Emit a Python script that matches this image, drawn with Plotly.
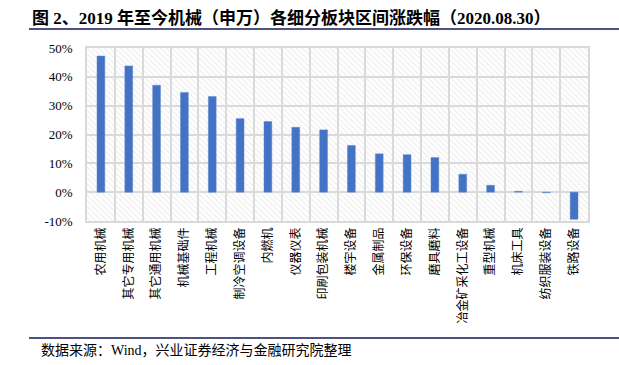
import plotly.graph_objects as go

categories = ["农用机械", "其它专用机械", "其它通用机械", "机械基础件", "工程机械",
              "制冷空调设备", "内燃机", "仪器仪表", "印刷包装机械", "楼宇设备",
              "金属制品", "环保设备", "磨具磨料", "冶金矿采化工设备", "重型机械",
              "机床工具", "纺织服装设备", "铁路设备"]
values = [0.472, 0.438, 0.371, 0.346, 0.332, 0.255, 0.245, 0.225, 0.216, 0.162,
          0.133, 0.130, 0.120, 0.062, 0.024, 0.003, -0.002, -0.094]
y_ticks = [-0.1, 0.0, 0.1, 0.2, 0.3, 0.4, 0.5]
y_tick_labels = ["-10%", "0%", "10%", "20%", "30%", "40%", "50%"]

title_text = "图 2、2019 年至今机械（申万）各细分板块区间涨跌幅（2020.08.30）"
source_text = "数据来源：Wind，兴业证券经济与金融研究院整理"

W, H = 619, 365
L, R, T, B = 87, 31, 48, 144
pw, ph = W - L - R, H - T - B

def px_x(x):
    return (x - L) / pw

def px_y(y):
    return (H - B - y) / ph

serif = "Liberation Serif, Times New Roman, Noto Sans CJK SC"
cjk = "Noto Sans CJK SC, Liberation Serif"
grid_c = "#d9d9d9"

fig = go.Figure()

# hatched plot background (transparent so gridlines show through)
fig.add_trace(go.Bar(
    x=categories, y=[y_ticks[-1] - y_ticks[0]] * len(categories),
    base=[y_ticks[0]] * len(categories),
    width=1.0, hoverinfo="skip", showlegend=False,
    marker=dict(color="rgba(255,255,255,0)",
                pattern=dict(shape="\\", fgcolor="#dedede", size=4, solidity=0.3,
                             fillmode="overlay"),
                line=dict(width=0)),
))

fig.add_trace(go.Bar(
    x=categories, y=values, width=0.28, showlegend=False,
    marker=dict(color="#4472C4", line=dict(color="#5a86d0", width=0.5)),
))

fig.update_layout(
    width=W, height=H,
    margin=dict(l=L, r=R, t=T, b=B, autoexpand=False),
    barmode="overlay",
    plot_bgcolor="white", paper_bgcolor="white",
    title=dict(text="<b>" + title_text + "</b>", x=32 / W, xanchor="left",
               xref="container", y=1 - 18 / H, yanchor="middle", yref="container",
               automargin=False,
               font=dict(family=serif, size=17, color="black")),
    xaxis=dict(type="category", showgrid=True, gridcolor=grid_c, gridwidth=1.5,
               tickson="boundaries", zeroline=False,
               showline=True, linecolor=grid_c, linewidth=1.5, mirror=True,
               ticks="", tickangle=-90, automargin=False,
               tickfont=dict(family=cjk, size=12, color="black"),
               range=[-0.5, len(categories) - 0.5]),
    yaxis=dict(range=[y_ticks[0], y_ticks[-1]], tickvals=y_ticks, ticktext=y_tick_labels,
               showgrid=True, gridcolor=grid_c, gridwidth=1.5, zeroline=False,
               showline=True, linecolor=grid_c, linewidth=1.5, mirror=True,
               ticks="", ticklabelstandoff=10, automargin=False,
               tickfont=dict(family=serif, size=13, color="black")),
    shapes=[
        dict(type="line", xref="paper", yref="paper", x0=px_x(29), x1=px_x(619),
             y0=px_y(29), y1=px_y(29), line=dict(color="#4e5282", width=2)),
        dict(type="line", xref="paper", yref="paper", x0=px_x(29), x1=px_x(619),
             y0=px_y(338), y1=px_y(338), line=dict(color="#4e5282", width=2)),
    ],
    annotations=[
        dict(text=source_text, xref="paper", yref="paper", x=px_x(39), y=px_y(350),
             xanchor="left", yanchor="middle", showarrow=False,
             font=dict(family=serif, size=14, color="black")),
    ],
)

fig.write_html("out.html", config={"displayModeBar": False},
               post_script="document.body.style.margin='0';document.body.style.overflow='hidden';")
